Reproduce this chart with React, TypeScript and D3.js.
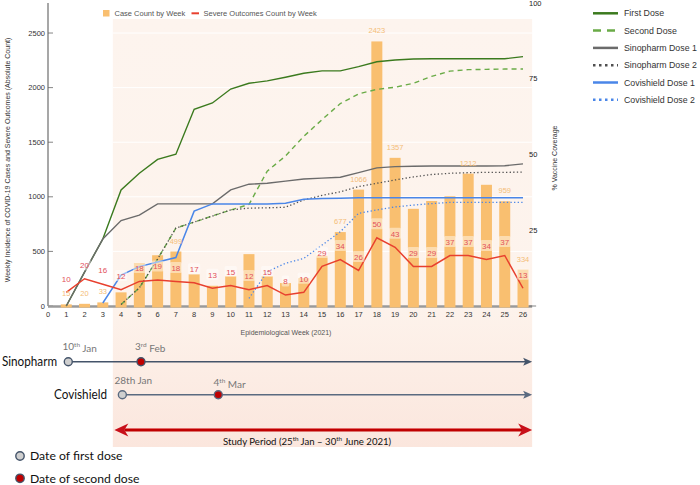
import React from 'react';
import * as d3 from 'd3';

// ---------- data ----------
const weeks = [1, 2, 3, 4, 5, 6, 7, 8, 9, 10, 11, 12, 13, 14, 15, 16, 17, 18, 19, 20, 21, 22, 23, 24, 25, 26];
const caseCounts = [15, 20, 33, 125, 395, 465, 499, 290, 185, 275, 475, 275, 210, 255, 460, 677, 1066, 2423, 1357, 890, 962, 1005, 1212, 1110, 959, 334];
const severeCounts = [10, 20, 16, 12, 18, 19, 18, 17, 13, 15, 12, 15, 8, 10, 29, 34, 26, 50, 43, 29, 29, 37, 37, 34, 37, 13];
const caseLabelWeeks = [1, 2, 3, 7, 16, 17, 18, 19, 23, 25, 26];

const firstDose = [0, 11.2, 22.1, 38.3, 43.8, 48.4, 50.1, 64.9, 67.0, 71.6, 73.5, 74.3, 75.5, 76.8, 77.6, 77.6, 79.0, 80.6, 81.2, 81.5, 81.6, 81.6, 81.6, 81.6, 81.6, 82.3];
const secondDose = [null, null, null, 0.5, 6, 15.5, 25.7, 27.7, 29.7, 31.7, 33.5, 44.5, 49.5, 56, 61.5, 66.8, 70.0, 71.5, 72.2, 73.5, 75.8, 77.5, 78.0, 78.1, 78.2, 78.2];
const sinopharmDose1 = [0, 11.2, 22.1, 28.2, 30.0, 33.7, 33.7, 33.7, 33.7, 38.3, 40.2, 40.5, 41.2, 41.9, 42.2, 42.5, 44.0, 45.6, 46.0, 46.1, 46.2, 46.2, 46.2, 46.2, 46.3, 46.9];
const sinopharmDose2 = [null, null, null, 0.5, 6, 15.5, 25.7, 27.7, 29.7, 31.7, 32.3, 32.4, 32.6, 35, 36.5, 37.7, 39.4, 40.5, 41.6, 42.6, 43.4, 43.8, 44.0, 44.1, 44.1, 44.2];
const covishieldDose1 = [null, null, 1, 10.2, 13, 14.5, 16, 31.3, 33.7, 33.7, 33.7, 33.7, 33.9, 35.2, 35.5, 35.6, 35.7, 35.7, 35.7, 35.7, 35.7, 35.7, 35.7, 35.7, 35.7, 35.7];
const covishieldDose2 = [null, null, null, null, null, null, null, null, null, null, 2.5, 11.3, 14.1, 15.7, 20.1, 24.5, 30.6, 31.7, 32.7, 33.3, 33.8, 34.2, 34.2, 34.2, 34.2, 34.2];

const leftTicks = [0, 500, 1000, 1500, 2000, 2500];
const rightTicks = [25, 50, 75, 100];
const xTicks = [0, 1, 2, 3, 4, 5, 6, 7, 8, 9, 10, 11, 12, 13, 14, 15, 16, 17, 18, 19, 20, 21, 22, 23, 24, 25, 26];

// timeline (positions in epidemiological weeks)
const vaccines = ['Sinopharm', 'Covishield'];
const firstDoseWeek = [1.11, 4.07];
const secondDoseWeek = [5.09, 9.32];
const studyStartWeek = 3.55;
const studyEndWeek = 26.5;

// ---------- scales ----------
const x = d3.scaleLinear().domain([0, 26]).range([48, 523]);
const yL = d3.scaleLinear().domain([0, 2775]).range([306, 3]);
const yS = d3.scaleLinear().domain([0, 222]).range([306, 3]);
const yR = d3.scaleLinear().domain([0, 100]).range([306, 3]);

const series = [
  { name: 'First Dose', data: firstDose, color: '#3b7a1e', width: 1.4, dash: null, lw: 2.5, ldash: null },
  { name: 'Second Dose', data: secondDose, color: '#6aab47', width: 1.4, dash: '5,4', lw: 2.5, ldash: '8,6' },
  { name: 'Sinopharm Dose 1', data: sinopharmDose1, color: '#6b6b6b', width: 1.4, dash: null, lw: 2.5, ldash: null },
  { name: 'Sinopharm Dose 2', data: sinopharmDose2, color: '#505050', width: 1.3, dash: '1.3,2.3', lw: 2.5, ldash: '2.5,3.5' },
  { name: 'Covishield Dose 1', data: covishieldDose1, color: '#4a86e8', width: 1.5, dash: null, lw: 2.5, ldash: null },
  { name: 'Covishield Dose 2', data: covishieldDose2, color: '#4a86e8', width: 1.3, dash: '1.3,2.3', lw: 2.5, ldash: '2.5,3.5' },
];

const drawOrder = [0, 1, 3, 2, 4, 5];

const lineGen = d3
  .line<[number, number | null]>()
  .defined((d) => d[1] != null)
  .x((d) => x(d[0]))
  .y((d) => yR(d[1] as number));

const severeLine = d3
  .line<number>()
  .x((_, i) => x(weeks[i]))
  .y((d) => yS(d));

const chartFont = '"Liberation Sans", Arial, sans-serif';
const tlFont = 'Lato, "Open Sans", sans-serif';

function Sup({ base, sup, rest }: { base: string; sup: string; rest: string }) {
  return (
    <>
      {base}
      <tspan fontSize="0.65em" dy="-0.45em">{sup}</tspan>
      <tspan dy="0.45em">{rest}</tspan>
    </>
  );
}

export default function App() {
  const bgX0 = x(studyStartWeek);
  const bgX1 = x(studyEndWeek);
  const barW = 11;
  const tlY = [361.7, 394.7];
  const tlLabelX = [2, 54];
  const tlLabelW = [55, 53];
  const arrowY = 430;

  return (
    <svg width={700} height={485} style={{ position: 'absolute', left: 0, top: 0 }} fontFamily={chartFont}>
      <defs>
        <linearGradient id="bgGrad" x1="0" y1="0" x2="0" y2="1">
          <stop offset="0" stopColor="#fdf4ee" />
          <stop offset="0.66" stopColor="#fdf3ec" />
          <stop offset="1" stopColor="#fbe6dd" />
        </linearGradient>
      </defs>
      <rect x={0} y={0} width={700} height={485} fill="#fff" />
      {/* study period background */}
      <rect x={bgX0} y={19} width={bgX1 - bgX0} height={447 - 19} fill="url(#bgGrad)" />
      {/* gridlines */}
      {leftTicks.slice(1).map((t) => (
        <line key={t} x1={bgX0} x2={bgX1} y1={yL(t)} y2={yL(t)} stroke="#ffffff" strokeWidth={1} />
      ))}

      {/* left axis */}
      <line x1={x(0)} x2={x(0)} y1={yL(2775)} y2={yL(0)} stroke="#8a8a8a" strokeWidth={1.5} />
      {leftTicks.map((t) => (
        <g key={t}>
          <line x1={x(0)} x2={x(0) + 5} y1={yL(t)} y2={yL(t)} stroke="#666" strokeWidth={0.8} />
          <text x={45} y={yL(t)} dy="0.35em" textAnchor="end" fontSize={7.5} fill="#333">{t}</text>
        </g>
      ))}
      {/* baseline */}
      <line x1={x(0)} x2={x(26.5)} y1={306.5} y2={306.5} stroke="#9a9a9a" strokeWidth={2.5} />
      <line x1={x(26.5) - 3} x2={x(26.5) + 4} y1={306} y2={306} stroke="#666" strokeWidth={0.8} />
      {xTicks.map((t) => (
        <text key={t} x={x(t)} y={317} textAnchor="middle" fontSize={7.5} fill="#333">{t}</text>
      ))}

      {/* bars */}
      {weeks.map((w, i) => (
        <rect key={w} x={x(w) - barW / 2} y={yL(caseCounts[i])} width={barW} height={307.5 - yL(caseCounts[i])} fill="#f9bf70" />
      ))}

      {/* vaccine lines */}
      {drawOrder.map((si) => {
        const s = series[si];
        const pts = weeks.map((w, i) => [w, s.data[i]] as [number, number | null]);
        return (
          <path key={s.name} d={lineGen(pts) || ''} fill="none" stroke={s.color} strokeWidth={s.width}
            strokeDasharray={s.dash || undefined} />
        );
      })}

      {/* severe outcomes line */}
      <path d={severeLine(severeCounts) || ''} fill="none" stroke="#e8402e" strokeWidth={1.5} />

      {/* case labels */}
      {weeks.map((w, i) =>
        caseLabelWeeks.includes(w) ? (
          <text key={w} x={x(w)} y={yL(caseCounts[i]) - 8} textAnchor="middle" fontSize={7.5} fill="#f4bd78">
            {caseCounts[i]}
          </text>
        ) : null
      )}
      {/* severe labels */}
      {weeks.map((w, i) => {
        const cy = yS(severeCounts[i]) - 13.5;
        const txt = String(severeCounts[i]);
        const tw = txt.length * 4.6 + 3;
        return (
          <g key={w}>
            <rect x={x(w) - tw / 2} y={cy - 6} width={tw} height={11} rx={1.5} fill="#ffffff" fillOpacity={0.45} />
            <text x={x(w)} y={cy} dy="0.35em" textAnchor="middle" fontSize={8} fill="#e2505a">{txt}</text>
          </g>
        );
      })}

      {/* right axis labels */}
      {rightTicks.map((t) => (
        <text key={t} x={529} y={yR(t)} dy="0.35em" fontSize={7.5} fill="#222">{t}</text>
      ))}
      <text transform={`translate(557,158) rotate(-90)`} textAnchor="middle" fontSize={7} fill="#333">% Vaccine Coverage</text>
      <text transform={`translate(10,160) rotate(-90)`} textAnchor="middle" fontSize={7} fill="#333">
        Weekly Incidence of COVID-19 Cases and Severe Outcomes (Absolute Count)
      </text>
      <text x={286} y={333} dy="0.35em" textAnchor="middle" fontSize={7} fill="#555">Epidemiological Week (2021)</text>

      {/* top legend */}
      <rect x={103} y={10} width={6.5} height={6.5} fill="#f9bf70" />
      <text x={114.5} y={13.3} dy="0.35em" fontSize={7.5} fill="#555">Case Count by Week</text>
      <line x1={191.5} x2={199} y1={13.3} y2={13.3} stroke="#e8402e" strokeWidth={2} />
      <text x={203.5} y={13.3} dy="0.35em" fontSize={7.5} fill="#555">Severe Outcomes Count by Week</text>

      {/* right legend */}
      {series.map((s, i) => (
        <g key={s.name} transform={`translate(593,${13.3 + i * 17.3})`}>
          <line x1={0} x2={25} y1={0} y2={0} stroke={s.color} strokeWidth={s.lw} strokeDasharray={s.ldash || undefined} />
          <text x={31} y={0} dy="0.35em" fontSize={8.8} fill="#333">{s.name}</text>
        </g>
      ))}

      {/* timeline */}
      {vaccines.map((v, i) => {
        const y = tlY[i];
        const xa = x(firstDoseWeek[i]);
        const xb = x(secondDoseWeek[i]);
        const xe = x(studyEndWeek);
        const col = i === 0 ? '#44546a' : '#5a6a80';
        return (
          <g key={v}>
            <text x={tlLabelX[i]} y={y} dy="0.35em" fontSize={13} fontFamily={tlFont} fill="#111"
              textLength={tlLabelW[i]} lengthAdjust="spacingAndGlyphs">{v}</text>
            <line x1={xa} x2={xe - 6} y1={y} y2={y} stroke={col} strokeWidth={1.6} />
            <path d={`M${xe},${y} L${xe - 9},${y - 4} L${xe - 7},${y} L${xe - 9},${y + 4} Z`} fill={col} />
            <circle cx={xa} cy={y} r={4} fill="#cfcfcf" stroke={col} strokeWidth={1.4} />
            <circle cx={xb} cy={y} r={4} fill="#c00000" stroke={col} strokeWidth={1.4} />
          </g>
        );
      })}
      <text x={62.5} y={350} fontSize={10} fontFamily={tlFont} fill="#777"><Sup base="10" sup="th" rest=" Jan" /></text>
      <text x={135} y={350} fontSize={10} fontFamily={tlFont} fill="#777"><Sup base="3" sup="rd" rest=" Feb" /></text>
      <text x={114.5} y={384} fontSize={10} fontFamily={tlFont} fill="#777">28th Jan</text>
      <text x={213.5} y={386} fontSize={10} fontFamily={tlFont} fill="#777"><Sup base="4" sup="th" rest=" Mar" /></text>

      {/* study period arrow */}
      {(() => {
        const xs = x(studyStartWeek) + 1.5;
        const xe = x(studyEndWeek);
        return (
          <g>
            <line x1={xs + 10} x2={xe - 10} y1={arrowY} y2={arrowY} stroke="#c00000" strokeWidth={3} />
            <line x1={xs + 10} x2={xe - 10} y1={arrowY - 1.5} y2={arrowY - 1.5} stroke="#e46a6a" strokeWidth={1} />
            <path d={`M${xs},${arrowY} L${xs + 14},${arrowY - 6.5} L${xs + 10},${arrowY} L${xs + 14},${arrowY + 6.5} Z`} fill="#c8101a" />
            <path d={`M${xe},${arrowY} L${xe - 14},${arrowY - 6.5} L${xe - 10},${arrowY} L${xe - 14},${arrowY + 6.5} Z`} fill="#c8101a" />
          </g>
        );
      })()}
      <text x={223} y={445} fontSize={9.6} fontFamily={tlFont} fill="#111">
        Study Period (25<tspan fontSize="6.3" dy="-4">th</tspan><tspan dy="4"> Jan – 30</tspan><tspan fontSize="6.3" dy="-4">th</tspan><tspan dy="4"> June 2021)</tspan>
      </text>

      {/* bottom legend */}
      <circle cx={20} cy={456} r={4.2} fill="#cfcfcf" stroke="#44546a" strokeWidth={1.4} />
      <text x={30} y={456} dy="0.35em" fontSize={12.2} fontFamily={tlFont} fill="#111">Date of first dose</text>
      <circle cx={20} cy={478.3} r={4.2} fill="#c00000" stroke="#44546a" strokeWidth={1.4} />
      <text x={30} y={478.3} dy="0.35em" fontSize={12.2} fontFamily={tlFont} fill="#111">Date of second dose</text>
    </svg>
  );
}
